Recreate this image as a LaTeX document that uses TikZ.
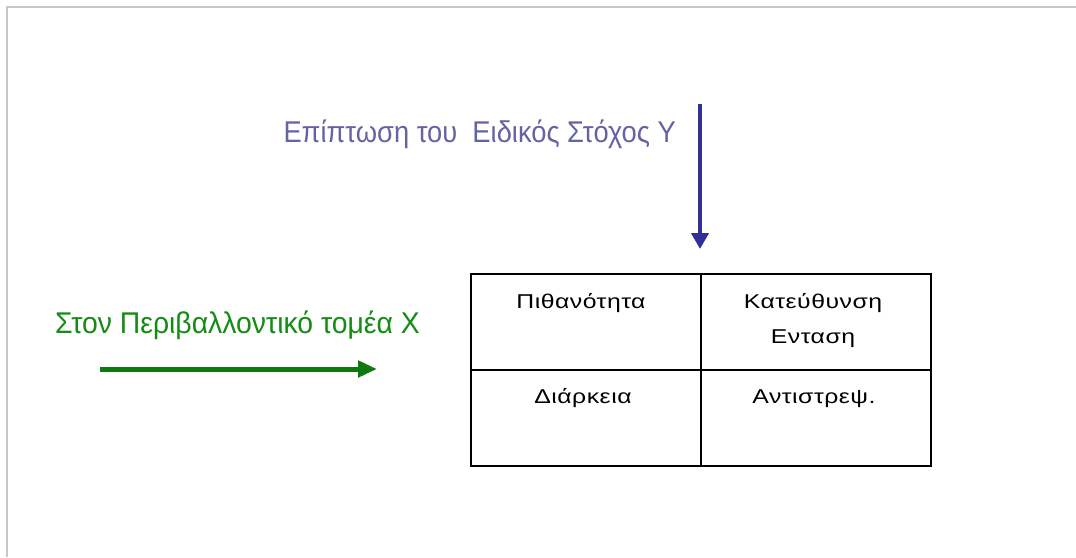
\documentclass[tikz,border=0pt]{standalone}
\usepackage{fontspec}
\setmainfont{Liberation Sans}
\usetikzlibrary{arrows.meta}
\definecolor{frameg}{RGB}{200,200,200}
\definecolor{bluetxt}{RGB}{100,100,165}
\definecolor{bluearr}{RGB}{48,48,150}
\definecolor{greentxt}{RGB}{20,140,20}
\definecolor{greenarr}{RGB}{15,120,15}
\newcommand{\widetxt}[1]{\scalebox{1.24}[1]{#1}}
\tikzset{
  x=1pt,y=-1pt,
  bigtxt/.style={inner sep=0pt,font=\fontsize{30}{33}\selectfont},
  celltxt/.style={inner sep=0pt,font=\fontsize{20}{35}\selectfont\addfontfeature{LetterSpace=2},align=center,anchor=base},
  cell/.style={draw=black,line width=1.5pt,minimum width=230pt,minimum height=96pt,inner sep=0pt,anchor=north west},
}
\begin{document}
\begin{tikzpicture}
\useasboundingbox (0,0) rectangle (1076,557);
\fill[white] (0,0) rectangle (1076,557);
\draw[frameg,line width=2pt] (7,557) -- (7,7) -- (1076,7);
% texts
\node[bigtxt,text=bluetxt,anchor=base east] (ttop) at (676,142) {\scalebox{0.91}[1]{Επίπτωση του\ \ Ειδικός Στόχος Υ}};
\node[bigtxt,text=greentxt,anchor=base west] (tleft) at (55,333) {\scalebox{0.945}[1]{Στον Περιβαλλοντικό τομέα Χ}};
% arrows
\coordinate (b1) at (700,104);
\coordinate (b2) at (700,249);
\draw[bluearr,line width=4pt,-{Triangle[length=16pt,width=17pt]}] (b1) -- (b2);
\coordinate (g1) at (100,369);
\coordinate (g2) at (377,369);
\draw[greenarr,line width=5pt,-{Triangle[length=19pt,width=16pt]}] (g1) -- (g2);
% table
\node[cell] (c11) at (470,273) {};
\node[cell] (c12) at (700,273) {};
\node[cell] (c21) at (470,369) {};
\node[cell] (c22) at (700,369) {};
\node[celltxt] (p) at (581,308) {\widetxt{Πιθανότητα}};
\node[celltxt] (k) at (813,343) {\widetxt{Κατεύθυνση}\\\widetxt{Ενταση}};
\node[celltxt] (d) at (583,403) {\widetxt{Διάρκεια}};
\node[celltxt] (a) at (814,403) {\widetxt{Αντιστρεψ.}};
\end{tikzpicture}
\end{document}
